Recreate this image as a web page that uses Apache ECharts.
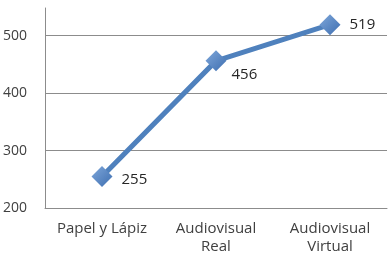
<!DOCTYPE html>
<html><head><meta charset="utf-8">
<script src="https://cdn.jsdelivr.net/npm/echarts@6/dist/echarts.min.js"></script>
<style>html,body{margin:0;padding:0;background:#fff}#c{width:389px;height:256px}</style>
</head><body><div id="c"></div>
<script>
const categories = ['Papel y Lápiz', 'Audiovisual\nReal', 'Audiovisual\nVirtual'];
const values = [255, 456, 519];
const yTicks = [200, 300, 400, 500];

const chart = echarts.init(document.getElementById('c'), null, {renderer: 'canvas'});
const font = 'Open Sans';
const labelOffsets = [[0, 3], [-4, 14], [0, 0]];
chart.setOption({
  animation: false,
  grid: {left: 45, right: 2, top: 8, bottom: 45, containLabel: false},
  xAxis: {
    type: 'category', data: categories, boundaryGap: true,
    axisLine: {show: true, lineStyle: {color: '#8c8c8c', width: 1}},
    axisTick: {show: false},
    axisLabel: {color: '#404040', fontFamily: font, fontSize: 15, margin: 12, lineHeight: 18, interval: 0}
  },
  yAxis: {
    type: 'value', min: 200, max: 548, interval: 100,
    axisLine: {show: true, lineStyle: {color: '#8c8c8c', width: 1}},
    axisTick: {show: false},
    splitLine: {show: true, showMaxLine: false, lineStyle: {color: '#8c8c8c', width: 1}},
    axisLabel: {color: '#404040', fontFamily: font, fontSize: 14, margin: 18,
      formatter: v => yTicks.includes(v) ? String(v) : ''}
  },
  series: [{
    type: 'line', data: values.map((v, i) => ({value: v, label: {offset: labelOffsets[i]}})),
    lineStyle: {color: '#4f81bd', width: 5},
    symbol: 'diamond', symbolSize: 21,
    itemStyle: {color: new echarts.graphic.LinearGradient(0, 0, 1, 1, [
      {offset: 0, color: '#7fa7da'}, {offset: 1, color: '#3d6eb0'}]), borderWidth: 0},
    label: {show: true, position: 'right', color: '#262626', fontFamily: font, fontSize: 15, distance: 9}
  }]
});
</script></body></html>
